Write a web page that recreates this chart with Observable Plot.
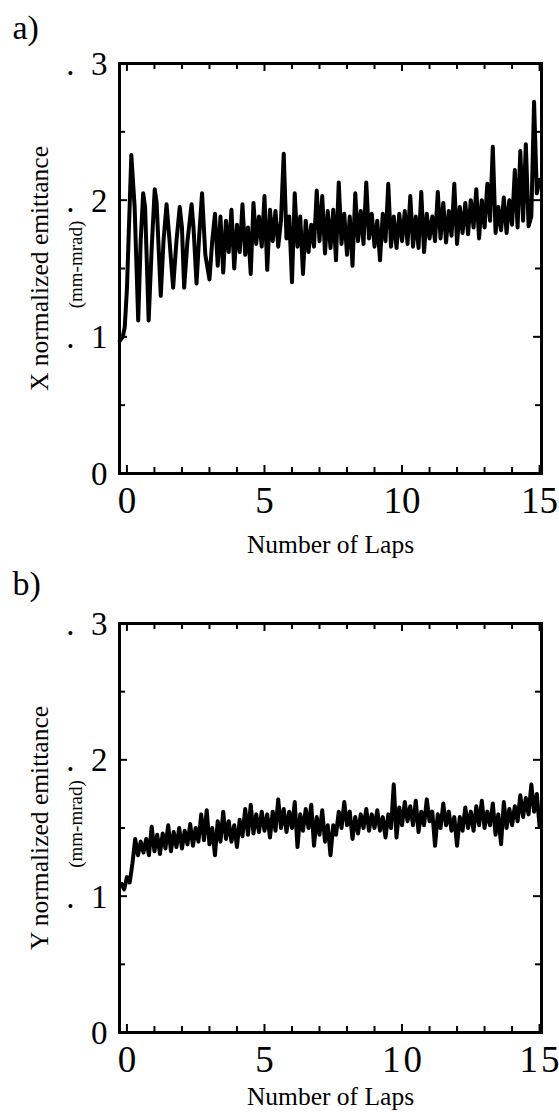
<!DOCTYPE html>
<html><head><meta charset="utf-8">
<script src="https://cdn.jsdelivr.net/npm/d3@7"></script>
<script src="https://cdn.jsdelivr.net/npm/@observablehq/plot@0.6"></script>
<style>
body{margin:0;background:#fff}
svg{display:block}
#chart svg, #chart svg text{font-family:"Liberation Serif","Times New Roman",serif !important;}
</style>
</head><body><div id="chart"></div>
<script>
// ---- data (emittance in mm-mrad, laps) ----
const topEarlyLaps = [-0.26,-0.15,-0.08,0.0,0.16,0.28,0.41,0.50,0.59,0.66,0.79,0.90,1.01,1.08,1.23,1.33,1.44,1.55,1.68,1.80,1.92,2.00,2.08,2.20,2.35,2.42,2.53,2.63,2.73,2.85,3.0];
const topEarlyEmit = [0.097,0.100,0.107,0.135,0.233,0.195,0.112,0.170,0.205,0.195,0.112,0.165,0.208,0.198,0.130,0.170,0.197,0.170,0.136,0.170,0.195,0.180,0.136,0.170,0.197,0.180,0.139,0.175,0.205,0.160,0.142];
const topLateStart = 3.1;
const topLateEmit = [
 0.170,0.190,0.152,0.188,0.147,0.185,0.162,0.193,0.150,0.182,
 0.162,0.197,0.160,0.180,0.146,0.198,0.168,0.188,0.166,0.203,
 0.149,0.193,0.170,0.192,0.166,0.185,0.234,0.172,0.188,0.140,
 0.205,0.166,0.188,0.146,0.185,0.162,0.182,0.166,0.207,0.170,
 0.203,0.161,0.192,0.165,0.193,0.156,0.213,0.168,0.190,0.160,
 0.188,0.152,0.205,0.170,0.192,0.168,0.213,0.172,0.190,0.166,
 0.185,0.156,0.190,0.170,0.212,0.166,0.188,0.165,0.190,0.170,
 0.192,0.168,0.203,0.166,0.188,0.165,0.206,0.162,0.190,0.172,
 0.188,0.170,0.206,0.172,0.198,0.169,0.192,0.174,0.212,0.168,
 0.195,0.176,0.198,0.175,0.200,0.180,0.208,0.172,0.200,0.180,
 0.212,0.185,0.239,0.176,0.195,0.178,0.202,0.176,0.200,0.182,
 0.222,0.180,0.236,0.185,0.241,0.181,0.188,0.272,0.205,0.215];
const botStart = -0.2;
const botEmit = [
 0.109,0.105,0.114,0.110,0.124,0.142,0.130,0.140,0.132,0.142,
 0.130,0.151,0.133,0.145,0.131,0.146,0.135,0.152,0.133,0.147,
 0.136,0.150,0.135,0.148,0.138,0.153,0.137,0.150,0.140,0.160,
 0.141,0.163,0.138,0.150,0.130,0.155,0.140,0.162,0.142,0.155,
 0.140,0.152,0.136,0.156,0.144,0.164,0.145,0.167,0.146,0.160,
 0.147,0.162,0.148,0.160,0.143,0.162,0.148,0.171,0.150,0.164,
 0.147,0.162,0.150,0.169,0.136,0.160,0.148,0.164,0.150,0.167,
 0.137,0.158,0.145,0.163,0.140,0.152,0.130,0.152,0.145,0.162,
 0.150,0.169,0.152,0.162,0.142,0.158,0.146,0.160,0.150,0.164,
 0.148,0.160,0.150,0.163,0.148,0.158,0.143,0.160,0.150,0.182,
 0.143,0.165,0.152,0.169,0.155,0.166,0.152,0.170,0.147,0.162,
 0.152,0.171,0.155,0.162,0.137,0.160,0.150,0.168,0.152,0.162,
 0.148,0.158,0.137,0.158,0.148,0.165,0.150,0.162,0.148,0.166,
 0.152,0.170,0.150,0.162,0.152,0.168,0.145,0.160,0.138,0.169,
 0.150,0.164,0.152,0.166,0.155,0.174,0.158,0.172,0.160,0.182,
 0.162,0.175,0.151];
const lapStep = 0.1;

const yTickValues = [0, 0.1, 0.2, 0.3];
const yTickLabels = ["0", ".\u00a0\u00a01", ".\u00a0\u00a02", ".\u00a0\u00a03"];
const yMinorTicks = [0.05, 0.15, 0.25];
const xTickValues = [0, 5, 10, 15];
const topXLabels = ["0", "5", "10", "15"];
const botXLabels = ["0", "5", "1\u200a0", "1\u200a5"];
const xMinorTicks = [1,2,3,4,6,7,8,9,11,12,13,14];

const panelTags = ["a)", "b)"];
const yTitles = ["X normalized emittance", "Y normalized emittance"];
const unitLabel = "(mm-mrad)";
const xTitle = "Number of Laps";

// ---- build tables ----
const topData = topEarlyLaps.map((l, i) => ({lap: l, emit: topEarlyEmit[i]}))
  .concat(topLateEmit.map((e, i) => ({lap: topLateStart + i * lapStep, emit: e})));
const botData = botEmit.map((e, i) => ({lap: botStart + i * lapStep, emit: e}));
const yLabelMap = new Map(yTickValues.map((v, i) => [v, yTickLabels[i]]));

const W = 559, H = 556, ML = 119, MR = 18, FW = W - ML - MR;
const FONT = "'Liberation Serif', 'Times New Roman', serif";

function panel(o) {
  const FH = H - o.mt - o.mb;
  const xLabelMap = new Map(xTickValues.map((v, i) => [v, o.xlabels[i]]));
  const tk = {stroke: "black", strokeWidth: 2};
  return Plot.plot({
    width: W, height: H,
    marginTop: o.mt, marginBottom: o.mb, marginLeft: ML, marginRight: MR,
    style: {fontFamily: FONT, background: "white", color: "black", overflow: "visible"},
    x: {domain: [-0.27, 15.07]},
    y: {domain: [0, 0.3]},
    marks: [
      Plot.line(o.data, {x: "lap", y: "emit", stroke: "black", strokeWidth: 4}),
      Plot.tickY(yTickValues, {y: d => d, insetRight: FW - 8, ...tk}),
      Plot.tickY(yMinorTicks, {y: d => d, insetRight: FW - 6, ...tk}),
      Plot.tickY(yTickValues, {y: d => d, insetLeft: FW - 8, ...tk}),
      Plot.tickY(yMinorTicks, {y: d => d, insetLeft: FW - 6, ...tk}),
      Plot.tickX(xTickValues, {x: d => d, insetTop: FH - 8, ...tk}),
      Plot.tickX(xMinorTicks, {x: d => d, insetTop: FH - 6, ...tk}),
      Plot.tickX(xTickValues, {x: d => d, insetBottom: FH - 8, ...tk}),
      Plot.tickX(xMinorTicks, {x: d => d, insetBottom: FH - 6, ...tk}),
      Plot.frame({stroke: "black", strokeWidth: 3}),
      Plot.axisY({ticks: yTickValues, tickFormat: d => yLabelMap.get(d), tickSize: 0, tickPadding: 12, fontSize: 33, fontFamily: FONT, label: null, dy: 1}),
      Plot.axisX({ticks: xTickValues, tickFormat: d => xLabelMap.get(d), tickSize: 0, tickPadding: 13, fontSize: 37, fontFamily: FONT, label: null}),
      Plot.text([o.tag], {text: d => d, frameAnchor: "top-left", dx: 12 - ML, dy: o.tagBaseline - o.mt, textAnchor: "start", lineAnchor: "bottom", fontSize: 34, fontFamily: FONT}),
      Plot.text([o.ytitle], {text: d => d, frameAnchor: "left", dx: -72, rotate: -90, textAnchor: "middle", lineAnchor: "bottom", fontSize: 25.5, fontFamily: FONT}),
      Plot.text([unitLabel], {text: d => d, frameAnchor: "left", dx: -38, dy: -4, rotate: -90, textAnchor: "middle", lineAnchor: "bottom", fontSize: 19, fontFamily: FONT}),
      Plot.text([xTitle], {text: d => d, frameAnchor: "bottom", dy: o.titleBaseline - (H - o.mb), textAnchor: "middle", lineAnchor: "bottom", fontSize: 25.5, fontFamily: FONT})
    ]
  });
}

const chart = document.getElementById("chart");
chart.append(panel({data: topData, tag: panelTags[0], ytitle: yTitles[0], xlabels: topXLabels, mt: 63, mb: 83, tagBaseline: 38, titleBaseline: 552}));
chart.append(panel({data: botData, tag: panelTags[1], ytitle: yTitles[1], xlabels: botXLabels, mt: 67, mb: 80, tagBaseline: 38, titleBaseline: 548}));
</script>
</body></html>
